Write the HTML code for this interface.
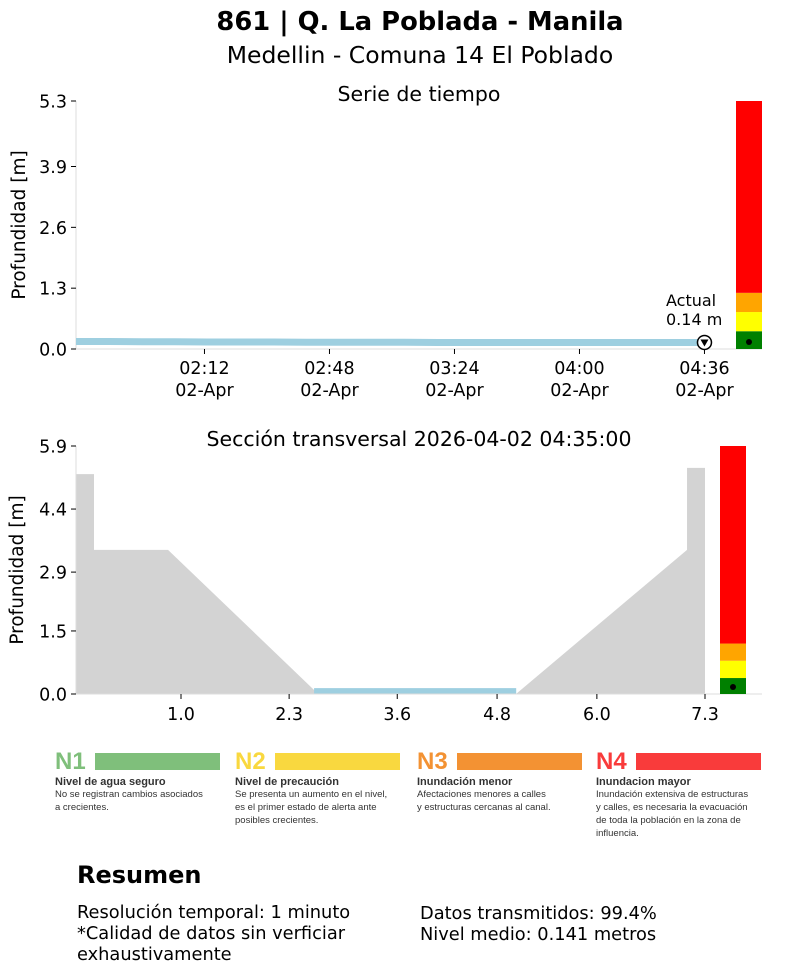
<!DOCTYPE html>
<html><head><meta charset="utf-8"><style>
body{margin:0;background:#fff;font-family:"Liberation Sans","DejaVu Sans",sans-serif;}
#wrap{position:relative;width:812px;height:973px;overflow:hidden;}
svg text{font-family:"DejaVu Sans","Liberation Sans",sans-serif;}
.leg{position:absolute;top:750px;width:170px;font-family:"Liberation Sans",sans-serif;}
.leg .n{font-size:24px;font-weight:bold;line-height:24px;display:inline-block;width:40px;}
.leg .bar{position:absolute;left:40px;top:3px;width:125px;height:17px;}
.leg .t{font-size:11px;font-weight:bold;color:#333;margin-top:2px;}
.leg .d{font-size:9.5px;color:#333;line-height:13px;}
.res{position:absolute;font-family:"DejaVu Sans","Liberation Sans",sans-serif;font-size:17.8px;line-height:21px;color:#000;}
</style></head><body><div id="wrap">
<svg id="chart" width="812" height="740" style="position:absolute;left:0;top:0">
<text x="420" y="30" text-anchor="middle" font-size="25.8" font-weight="bold">861 | Q. La Poblada - Manila</text>
<text x="420" y="63" text-anchor="middle" font-size="23.5">Medellin - Comuna 14 El Poblado</text>
<g id="top"></g>
<g id="bot"></g>
</svg>
<div class="leg" style="left:55px"><span class="n" style="color:#7fbf7b">N1</span><div class="bar" style="background:#7fbf7b"></div><div class="t">Nivel de agua seguro</div><div class="d">No se registran cambios asociados<br>a crecientes.</div></div>
<div class="leg" style="left:235px"><span class="n" style="color:#f9d83f">N2</span><div class="bar" style="background:#f9d83f"></div><div class="t">Nivel de precaución</div><div class="d">Se presenta un aumento en el nivel,<br>es el primer estado de alerta ante<br>posibles crecientes.</div></div>
<div class="leg" style="left:417px"><span class="n" style="color:#f39233">N3</span><div class="bar" style="background:#f39233"></div><div class="t">Inundación menor</div><div class="d">Afectaciones menores a calles<br>y estructuras cercanas al canal.</div></div>
<div class="leg" style="left:596px"><span class="n" style="color:#f93b3b">N4</span><div class="bar" style="background:#f93b3b"></div><div class="t">Inundacion mayor</div><div class="d">Inundación extensiva de estructuras<br>y calles, es necesaria la evacuación<br>de toda la población en la zona de<br>influencia.</div></div>
<div class="res" style="left:77px;top:865px;font-size:24px;font-weight:bold">Resumen</div>
<div class="res" style="left:77px;top:902px">Resolución temporal: 1 minuto<br>*Calidad de datos sin verficiar<br>exhaustivamente</div>
<div class="res" style="left:420px;top:903px">Datos transmitidos: 99.4%<br>Nivel medio: 0.141 metros</div>
</div>
<script>
// ---- time series data ----
const tsStartMin = 95;   // 01:35
const tsDepth = [0.16,0.16,0.155,0.155,0.15,0.15,0.15,0.145,0.145,0.145,0.145,0.14,0.14,0.14,0.14,0.14,0.14,0.14,0.14,0.14];
const tsTicks = [132,168,204,240,276];
const tsTickLabels = ["02:12","02:48","03:24","04:00","04:36"];
const tsYTicks = [0.0,1.3,2.6,3.9,5.3];
const tsEndMin = 275;
const actualDepth = 0.14;
const alertLevels = [0.38,0.79,1.2]; // green/yellow/orange upper bounds
const alertColors = ["#008000","#ffff00","#ffa500","#ff0000"];
// ---- cross section data ----
const secX = [-0.262,-0.262,-0.046,-0.046,0.844,2.65,5.028,7.084,7.084,7.3,7.3];
const secY = [0,5.23,5.23,3.43,3.43,0,0,3.43,5.38,5.38,0];
const waterX = [2.60,5.03];
const waterDepth = 0.14;
const secXTicks = [1.0,2.3,3.6,4.8,6.0,7.3];
const secYTicks = [0.0,1.5,2.9,4.4,5.9];
const NS="http://www.w3.org/2000/svg";
const FS=17.5;
function mk(parent,tag,attrs,name,text){const e=document.createElementNS(NS,tag);for(const k in attrs)e.setAttribute(k,attrs[k]);


if(text!==undefined)e.textContent=text;parent.appendChild(e);return e;}
// top chart
const T=document.getElementById('top');
const tx=m=>76+(m-tsStartMin)*(125/36), ty=v=>349-v*(248/5.3);
mk(T,'line',{x1:76,y1:101,x2:76,y2:349,stroke:'#ddd'},'y-axis-line');
mk(T,'line',{x1:76,y1:349,x2:762,y2:349,stroke:'#ddd'},'x-axis-line');
tsYTicks.forEach(v=>{mk(T,'line',{x1:71,x2:76,y1:ty(v),y2:ty(v),stroke:'#000'},'y-tick');
mk(T,'text',{x:67,y:ty(v)+6.5,'text-anchor':'end','font-size':FS},'y-tick-label',v.toFixed(1));});
tsTicks.forEach((m,i)=>{mk(T,'line',{x1:tx(m),x2:tx(m),y1:349,y2:354,stroke:'#000'},'x-tick');
mk(T,'text',{x:tx(m),y:374,'text-anchor':'middle','font-size':FS},'x-tick-label',tsTickLabels[i]);
mk(T,'text',{x:tx(m),y:396,'text-anchor':'middle','font-size':FS},'x-tick-date','02-Apr');});
mk(T,'text',{x:25,y:225,'text-anchor':'middle','font-size':18.5,transform:'rotate(-90 25 225)'},'y-axis-title','Profundidad [m]');
mk(T,'text',{x:419,y:101,'text-anchor':'middle','font-size':20.5},'chart-title','Serie de tiempo');
let pts=tsDepth.map((v,i)=>[tx(tsStartMin+i*(tsEndMin-tsStartMin)/(tsDepth.length-1)),ty(v)]);
mk(T,'polyline',{points:pts.map(p=>p.join(',')).join(' '),fill:'none',stroke:'#9ecfe0','stroke-width':7},'depth-line');
const ax=tx(tsEndMin+1), ay=ty(actualDepth);
mk(T,'circle',{cx:ax,cy:ay,r:7,fill:'#fff',stroke:'#000','stroke-width':1.5},'actual-marker');
mk(T,'path',{d:`M${ax-4},${ay-3}L${ax+4},${ay-3}L${ax},${ay+4}Z`,fill:'#000'},'actual-marker-arrow');
mk(T,'text',{x:666,y:306,'font-size':16},'actual-label','Actual');
mk(T,'text',{x:666,y:325,'font-size':16},'actual-value',actualDepth.toFixed(2)+' m');
function alertBar(G,x0,w,yf,ymax,prefix){const b=[0,...alertLevels,ymax];
for(let i=0;i<4;i++)mk(G,'rect',{x:x0,y:yf(b[i+1]),width:w,height:yf(b[i])-yf(b[i+1]),fill:alertColors[i]},prefix+'-'+i);
mk(G,'circle',{cx:x0+w/2,cy:yf(0)-7,r:3,fill:'#000'},'alert-dot');}
alertBar(T,736,26,ty,5.3,'alert-band');
// bottom chart
const B=document.getElementById('bot');
const bx=v=>181+(v-1.0)*(524/6.3), by=v=>694-v*(248/5.9);
mk(B,'polygon',{points:secX.map((x,i)=>bx(x)+','+by(secY[i])).join(' '),fill:'#d3d3d3'},'channel-profile');
mk(B,'rect',{x:bx(waterX[0]),y:by(waterDepth),width:bx(waterX[1])-bx(waterX[0]),height:by(0)-by(waterDepth),fill:'#9ecfe0'},'water-level');
mk(B,'line',{x1:76,y1:446,x2:76,y2:694,stroke:'#ddd'},'y-axis-line');
mk(B,'line',{x1:76,y1:694,x2:762,y2:694,stroke:'#ddd'},'x-axis-line');
secYTicks.forEach(v=>{mk(B,'line',{x1:71,x2:76,y1:by(v),y2:by(v),stroke:'#000'},'y-tick');
mk(B,'text',{x:67,y:by(v)+6.5,'text-anchor':'end','font-size':FS},'y-tick-label',v.toFixed(1));});
secXTicks.forEach(v=>{mk(B,'line',{x1:bx(v),x2:bx(v),y1:694,y2:699,stroke:'#000'},'x-tick');
mk(B,'text',{x:bx(v),y:720,'text-anchor':'middle','font-size':FS},'x-tick-label',v.toFixed(1));});
mk(B,'text',{x:23,y:570,'text-anchor':'middle','font-size':18.5,transform:'rotate(-90 23 570)'},'y-axis-title','Profundidad [m]');
mk(B,'text',{x:419,y:446,'text-anchor':'middle','font-size':20.5},'chart-title','Sección transversal 2026-04-02 04:35:00');
alertBar(B,720,26,by,5.9,'alert-band');
</script></body></html>
